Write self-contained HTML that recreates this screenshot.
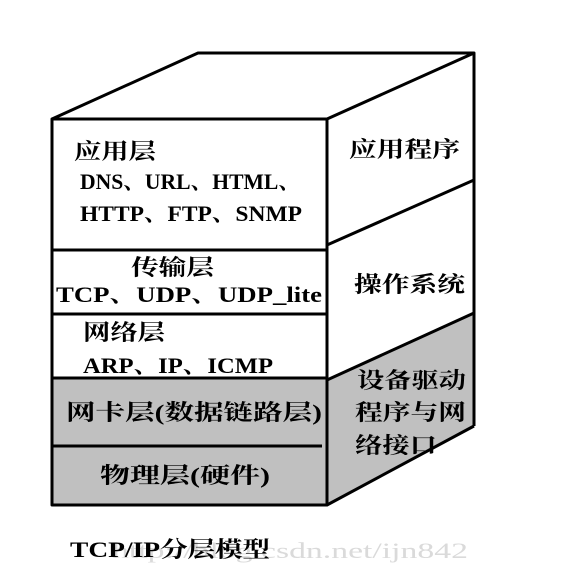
<!DOCTYPE html>
<html><head><meta charset="utf-8"><style>
body{margin:0;background:#fff;}
svg text{font-family:"Liberation Serif","Noto Serif CJK SC",serif;fill:#000;font-weight:bold;}
</style></head><body>
<svg width="564" height="568" viewBox="0 0 564 568" xmlns="http://www.w3.org/2000/svg">
<rect width="564" height="568" fill="#fff"/>
<rect x="52" y="378" width="275" height="127" fill="#c0c0c0"/>
<polygon points="327,380 474,313 474,426 327,505" fill="#c0c0c0"/>
<g stroke="#000" stroke-width="3" fill="none" stroke-linejoin="round">
<rect x="52" y="119" width="275" height="386"/>
<polyline points="52,119 198,53 474,53 327,119"/>
<line x1="474" y1="53" x2="474" y2="426"/>
<line x1="327" y1="505" x2="474" y2="426"/>
<line x1="327" y1="245" x2="474" y2="180"/>
<line x1="327" y1="380" x2="474" y2="313"/>
<line x1="52" y1="250" x2="327" y2="250"/>
<line x1="52" y1="314" x2="328" y2="314"/>
<line x1="52" y1="378" x2="327" y2="378"/>
<line x1="52" y1="446" x2="322" y2="446"/>
</g>
<g font-size="22">
<text x="74" y="159" textLength="82" lengthAdjust="spacingAndGlyphs">应用层</text>
<text x="80" y="189" textLength="220" lengthAdjust="spacingAndGlyphs">DNS、URL、HTML、</text>
<text x="80" y="221" textLength="222" lengthAdjust="spacingAndGlyphs">HTTP、FTP、SNMP</text>
<text x="131" y="275" textLength="83" lengthAdjust="spacingAndGlyphs">传输层</text>
<text x="56" y="302" textLength="266" lengthAdjust="spacingAndGlyphs">TCP、UDP、UDP_lite</text>
<text x="83" y="340" textLength="82" lengthAdjust="spacingAndGlyphs">网络层</text>
<text x="83" y="373" textLength="190" lengthAdjust="spacingAndGlyphs">ARP、IP、ICMP</text>
<text x="66" y="420" textLength="256" lengthAdjust="spacingAndGlyphs">网卡层(数据链路层)</text>
<text x="100" y="483" textLength="170" lengthAdjust="spacingAndGlyphs">物理层(硬件)</text>
<text x="349" y="157" textLength="111" lengthAdjust="spacingAndGlyphs">应用程序</text>
<text x="354" y="292" textLength="111" lengthAdjust="spacingAndGlyphs">操作系统</text>
<text x="357" y="388" textLength="109" lengthAdjust="spacingAndGlyphs">设备驱动</text>
<text x="355" y="420" textLength="111" lengthAdjust="spacingAndGlyphs">程序与网</text>
<text x="355" y="453" textLength="82" lengthAdjust="spacingAndGlyphs">络接口</text>
<text x="112" y="558" textLength="356" lengthAdjust="spacingAndGlyphs" style="fill:#dadada;font-weight:normal">http://blog.csdn.net/ijn842</text>
<text x="70" y="557" textLength="200" lengthAdjust="spacingAndGlyphs">TCP/IP分层模型</text>
</g>
</svg>
</body></html>
